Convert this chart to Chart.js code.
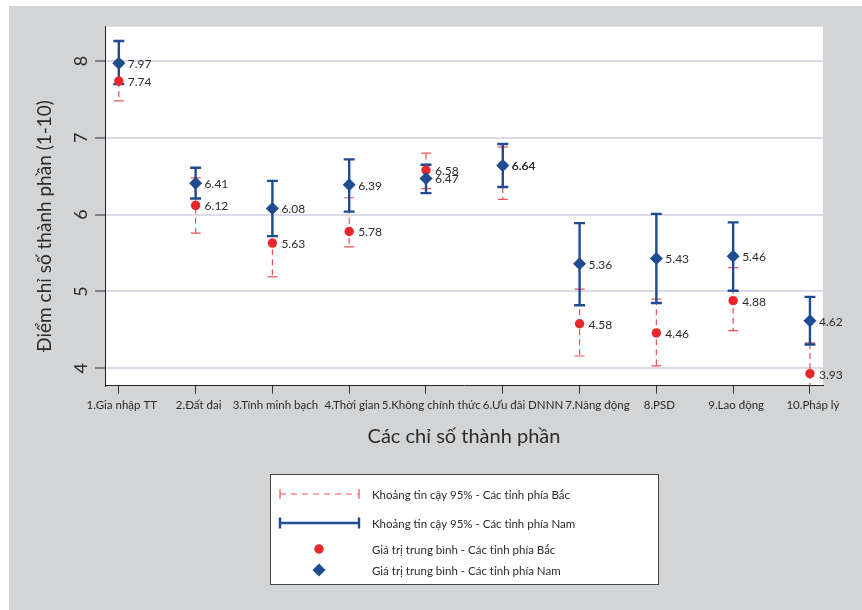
<!DOCTYPE html>
<html>
<head>
<meta charset="utf-8">
<script src="https://cdn.jsdelivr.net/npm/chart.js@4.4.1/dist/chart.umd.min.js"></script>
<style>
  html, body { margin: 0; padding: 0; background: #ffffff; }
  #wrap { width: 862px; height: 610px; position: relative; }
</style>
</head>
<body>
<div id="wrap"><canvas id="chart"></canvas></div>
<script>
// Component indices (1-10) and their labels
const categories = [
  '1.Gia nhập TT', '2.Đất đai', '3.Tính minh bạch', '4.Thời gian',
  '5.Không chính thức', '6.Ưu đãi DNNN', '7.Năng động', '8.PSD',
  '9.Lao động', '10.Pháp lý'
];
const positions = [1, 2, 3, 4, 5, 6, 7, 8, 9, 10];

// Northern provinces: mean and 95% confidence interval
const bacMean = [7.74, 6.12, 5.63, 5.78, 6.58, 6.64, 4.58, 4.46, 4.88, 3.93];
const bacLow  = [7.48, 5.76, 5.19, 5.58, 6.34, 6.20, 4.16, 4.03, 4.49, 3.53];
const bacHigh = [8.00, 6.48, 6.07, 6.22, 6.80, 6.88, 5.03, 4.90, 5.31, 4.33];

// Southern provinces: mean and 95% confidence interval
const namMean = [7.97, 6.41, 6.08, 6.39, 6.47, 6.64, 5.36, 5.43, 5.46, 4.62];
const namLow  = [7.70, 6.21, 5.72, 6.04, 6.28, 6.36, 4.82, 4.85, 5.01, 4.31];
const namHigh = [8.26, 6.61, 6.44, 6.72, 6.65, 6.92, 5.89, 6.01, 5.90, 4.93];

const yTicks = [4, 5, 6, 7, 8];

const legendLabels = [
  'Khoảng tin cậy 95% - Các tỉnh phía Bắc',
  'Khoảng tin cậy 95% - Các tỉnh phía Nam',
  'Giá trị trung bình - Các tỉnh phía Bắc',
  'Giá trị trung bình - Các tỉnh phía Nam'
];
const xTitle = 'Các chỉ số thành phần';
const yTitle = 'Điểm chỉ số thành phần (1-10)';

const FONT = 'Lato, "Open Sans", "Noto Sans", sans-serif';
const RED = '#e8262d';
const RED_LINE = 'rgba(232, 52, 60, 0.85)';
const BLUE = '#1f4b91';
const PANEL = '#d3d4d6';
const TEXT = '#2b2b2b';

function toPoints(means) {
  return positions.map((x, i) => ({ x: x, y: means[i] }));
}

function drawBar(ctx, xs, ys, x, lo, hi, opts) {
  const px = xs.getPixelForValue(x);
  const top = ys.getPixelForValue(hi);
  const bot = ys.getPixelForValue(lo);
  ctx.save();
  ctx.strokeStyle = opts.color;
  ctx.lineWidth = opts.width;
  ctx.setLineDash(opts.dash || []);
  ctx.beginPath();
  ctx.moveTo(px, top);
  ctx.lineTo(px, bot);
  ctx.stroke();
  ctx.setLineDash([]);
  ctx.lineWidth = opts.capWidth;
  ctx.beginPath();
  ctx.moveTo(px - opts.cap, top); ctx.lineTo(px + opts.cap, top);
  ctx.moveTo(px - opts.cap, bot); ctx.lineTo(px + opts.cap, bot);
  ctx.stroke();
  ctx.restore();
}

// Panel background, white plot region, error bars under the markers
const framePlugin = {
  id: 'frame',
  beforeDraw(chart) {
    const { ctx, chartArea: a, width, height } = chart;
    ctx.save();
    ctx.fillStyle = '#ffffff';
    ctx.fillRect(0, 0, width, height);
    ctx.fillStyle = PANEL;
    ctx.fillRect(9, 6, width - 9, height - 6);
    ctx.fillStyle = '#ffffff';
    ctx.fillRect(a.left, a.top, a.right - a.left, a.bottom - a.top);
    ctx.restore();
  },
  beforeDatasetsDraw(chart) {
    const { ctx, chartArea: a } = chart;
    const xs = chart.scales.x, ys = chart.scales.y;
    ctx.save();
    ctx.beginPath();
    ctx.rect(a.left, a.top, a.right - a.left, a.bottom - a.top);
    ctx.clip();
    positions.forEach((x, i) => {
      drawBar(ctx, xs, ys, x, bacLow[i], bacHigh[i],
        { color: RED_LINE, width: 1.2, dash: [6, 4], capWidth: 1.2, cap: 5 });
    });
    positions.forEach((x, i) => {
      drawBar(ctx, xs, ys, x, namLow[i], namHigh[i],
        { color: BLUE, width: 2.4, capWidth: 2.4, cap: 5.5 });
    });
    ctx.restore();
  },
  afterDatasetsDraw(chart) {
    const { ctx } = chart;
    const xs = chart.scales.x, ys = chart.scales.y;
    ctx.save();
    ctx.fillStyle = TEXT;
    ctx.font = '12px ' + FONT;
    ctx.textAlign = 'left';
    ctx.textBaseline = 'middle';
    positions.forEach((x, i) => {
      const px = xs.getPixelForValue(x) + 9;
      ctx.fillText(bacMean[i].toFixed(2), px, ys.getPixelForValue(bacMean[i]) + 1);
      ctx.fillText(namMean[i].toFixed(2), px, ys.getPixelForValue(namMean[i]) + 1);
    });
    ctx.restore();
  },
  afterDraw(chart) {
    const { ctx } = chart;
    const xs = chart.scales.x;

    // category labels: centred on their tick, nudged right when they would collide
    ctx.save();
    ctx.fillStyle = TEXT;
    ctx.font = '11.5px ' + FONT;
    ctx.textAlign = 'left';
    ctx.textBaseline = 'middle';
    let prevEnd = -Infinity;
    positions.forEach((v, i) => {
      const w = ctx.measureText(categories[i]).width;
      let start = xs.getPixelForValue(v) - w / 2 + 3;
      if (start < prevEnd + 2) start = prevEnd + 2;
      ctx.fillText(categories[i], start, xs.bottom - 70 + 20);
      prevEnd = start + w;
    });
    ctx.restore();

    ctx.save();
    // rotated y-axis title
    ctx.translate(45, 226);
    ctx.rotate(-Math.PI / 2);
    ctx.fillStyle = TEXT;
    ctx.font = '19px ' + FONT;
    ctx.textAlign = 'center';
    ctx.textBaseline = 'middle';
    ctx.fillText(yTitle, 0, 0);
    ctx.restore();

    // legend box
    ctx.save();
    ctx.fillStyle = '#ffffff';
    ctx.fillRect(270.5, 474.5, 388, 110);
    ctx.strokeStyle = '#444444';
    ctx.lineWidth = 1;
    ctx.strokeRect(270.5, 474.5, 388, 110);
    const rows = [494, 523, 549, 570];
    const x0 = 280, x1 = 359, xm = 319;
    // dashed red interval
    ctx.strokeStyle = RED_LINE;
    ctx.lineWidth = 1.2;
    ctx.setLineDash([6, 5]);
    ctx.beginPath(); ctx.moveTo(x0, rows[0]); ctx.lineTo(x1, rows[0]); ctx.stroke();
    ctx.setLineDash([]);
    ctx.beginPath();
    ctx.moveTo(x0, rows[0] - 5); ctx.lineTo(x0, rows[0] + 5);
    ctx.moveTo(x1, rows[0] - 5); ctx.lineTo(x1, rows[0] + 5);
    ctx.stroke();
    // solid blue interval
    ctx.strokeStyle = BLUE;
    ctx.lineWidth = 2.4;
    ctx.beginPath();
    ctx.moveTo(x0, rows[1]); ctx.lineTo(x1, rows[1]);
    ctx.moveTo(x0, rows[1] - 5.5); ctx.lineTo(x0, rows[1] + 5.5);
    ctx.moveTo(x1, rows[1] - 5.5); ctx.lineTo(x1, rows[1] + 5.5);
    ctx.stroke();
    // markers
    ctx.fillStyle = RED;
    ctx.beginPath(); ctx.arc(xm, rows[2], 4.7, 0, Math.PI * 2); ctx.fill();
    ctx.fillStyle = BLUE;
    ctx.beginPath();
    ctx.moveTo(xm, rows[3] - 6.5); ctx.lineTo(xm + 6.5, rows[3]);
    ctx.lineTo(xm, rows[3] + 6.5); ctx.lineTo(xm - 6.5, rows[3]);
    ctx.closePath(); ctx.fill();
    // texts
    ctx.fillStyle = TEXT;
    ctx.font = '11.5px ' + FONT;
    ctx.textAlign = 'left';
    ctx.textBaseline = 'middle';
    legendLabels.forEach((t, i) => ctx.fillText(t, 372, rows[i] + 1));
    ctx.restore();
  }
};

new Chart(document.getElementById('chart'), {
  type: 'scatter',
  data: {
    datasets: [
      {
        label: legendLabels[2],
        data: toPoints(bacMean),
        pointStyle: 'circle',
        pointRadius: 4.7,
        pointHoverRadius: 4.7,
        backgroundColor: RED,
        borderColor: RED,
        borderWidth: 0,
        order: 2
      },
      {
        label: legendLabels[3],
        data: toPoints(namMean),
        pointStyle: 'rectRot',
        pointRadius: 6.5,
        pointHoverRadius: 6.5,
        backgroundColor: BLUE,
        borderColor: BLUE,
        borderWidth: 0,
        order: 1
      }
    ]
  },
  plugins: [framePlugin],
  options: {
    responsive: true,
    maintainAspectRatio: false,
    animation: false,
    events: [],
    layout: { padding: { left: 0, top: 26.7, right: 39, bottom: 154.3 } },
    plugins: {
      legend: { display: false },
      tooltip: { enabled: false }
    },
    scales: {
      x: {
        type: 'linear',
        min: 0.82,
        max: 10.17,
        afterBuildTicks(scale) { scale.ticks = positions.map(v => ({ value: v })); },
        afterFit(scale) { scale.height = 70; },
        ticks: {
          display: false,
          autoSkip: false,
          maxRotation: 0,
          minRotation: 0
        },
        grid: {
          drawOnChartArea: false,
          drawTicks: true,
          tickLength: 8,
          tickColor: '#333333',
          tickWidth: 1
        },
        border: { display: true, color: '#222222', width: 1 },
        title: {
          display: true,
          text: xTitle,
          color: TEXT,
          font: { family: FONT, size: 20 },
          padding: { top: 0, bottom: 7 }
        }
      },
      y: {
        type: 'linear',
        min: 3.773,
        max: 8.447,
        afterBuildTicks(scale) { scale.ticks = yTicks.map(v => ({ value: v })); },
        afterFit(scale) { scale.width = 105; },
        ticks: {
          minRotation: 90,
          maxRotation: 90,
          crossAlign: 'center',
          padding: 9,
          color: TEXT,
          font: { family: FONT, size: 18 },
          callback: (v) => String(v)
        },
        grid: {
          color: '#dcdbe9',
          lineWidth: 2,
          drawTicks: true,
          tickLength: 10,
          tickColor: '#333333',
          tickWidth: 1
        },
        border: { display: true, color: '#222222', width: 1 }
      }
    }
  }
});
</script>
</body>
</html>
